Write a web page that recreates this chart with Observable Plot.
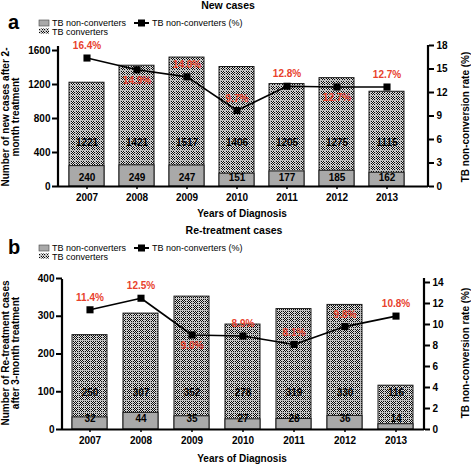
<!DOCTYPE html>
<html>
<head>
<meta charset="utf-8">
<script src="https://cdn.jsdelivr.net/npm/d3@7"></script>
<script src="https://cdn.jsdelivr.net/npm/@observablehq/plot@0.6"></script>
<style>
  html, body { margin: 0; padding: 0; background: #fff; }
  #root { position: relative; width: 471px; height: 465px; overflow: hidden; background: #fff; }
  #root > svg { position: absolute; left: 0; }
  #overlay { position: absolute; left: 0; top: 0; pointer-events: none; }
</style>
</head>
<body>
<div id="root"></div>
<script>
// ---------- data ----------
const years = ["2007", "2008", "2009", "2010", "2011", "2012", "2013"];

const newNonConverters = [240, 249, 247, 151, 177, 185, 162];
const newConverters    = [1221, 1421, 1517, 1406, 1205, 1275, 1115];
const newRate          = [16.4, 14.9, 14.0, 9.7, 12.8, 12.7, 12.7];
const newRateBelow     = ["2008", "2012"];

const reNonConverters  = [32, 44, 35, 27, 28, 36, 14];
const reConverters     = [250, 307, 352, 278, 319, 330, 116];
const reRate           = [11.4, 12.5, 9.0, 8.9, 8.1, 9.8, 10.8];
const reRateBelow      = ["2009"];

const newLeftTicks  = [0, 400, 800, 1200, 1600];
const newRightTicks = [0, 3, 6, 9, 12, 15, 18];
const reLeftTicks   = [0, 100, 200, 300, 400];
const reRightTicks  = [0, 2, 4, 6, 8, 10, 12, 14];

// ---------- styles ----------
const FONT = "'Liberation Sans', Arial, Helvetica, sans-serif";
const RED = "#e8412c";
const NC_FILL = "#a9a9a9";
const root = document.getElementById("root");

function panel(cfg) {
  const rows = years.map((y, i) => ({
    year: y, nc: cfg.nc[i], c: cfg.c[i], rate: cfg.rate[i]
  }));
  const k = cfg.yMax / cfg.rMax;
  const ry = d => d.rate * k;
  const above = rows.filter(d => !cfg.below.includes(d.year));
  const below = rows.filter(d => cfg.below.includes(d.year));
  const chart = Plot.plot({
    width: 471,
    height: cfg.height,
    marginTop: cfg.mt, marginBottom: cfg.mb, marginLeft: cfg.ml, marginRight: cfg.mr,
    x: { type: "band", domain: years, paddingInner: 0.31, paddingOuter: cfg.po, insetRight: cfg.insetRight },
    y: { domain: [0, cfg.yMax] },
    style: { fontFamily: FONT, fontSize: "10px", fontWeight: "bold", color: "black", background: "transparent", overflow: "visible" },
    marks: [
      Plot.barY(rows, { x: "year", y: "c", fill: `url(#${cfg.pattern})`, stroke: "#1a1a1a", strokeWidth: 1 }),
      Plot.barY(rows, { x: "year", y: "nc", fill: NC_FILL, stroke: "#1a1a1a", strokeWidth: 1 }),
      Plot.text(rows, { x: "year", text: d => String(d.c), frameAnchor: "bottom", dy: cfg.cLabelDy, fontSize: 10, fontWeight: "bold", fill: "black" }),
      Plot.text(rows, { x: "year", text: d => String(d.nc), frameAnchor: "bottom", dy: cfg.ncLabelDy, fontSize: 10, fontWeight: "bold", fill: "black" }),
      Plot.line(rows, { x: "year", y: ry, stroke: "black", strokeWidth: 1.6 }),
      Plot.dot(rows, { x: "year", y: ry, symbol: "square", r: 4, fill: "black", stroke: "none" }),
      Plot.text(above, { x: "year", y: ry, text: d => d.rate.toFixed(1) + "%", dy: -12, fill: RED, fontSize: 10, fontWeight: "bold" }),
      Plot.text(below, { x: "year", y: ry, text: d => d.rate.toFixed(1) + "%", dy: 11, fill: RED, fontSize: 10, fontWeight: "bold" }),
      Plot.ruleY([0], { stroke: "black", strokeWidth: 2.2 }),
      Plot.axisY(cfg.leftTicks, { anchor: "left", tickSize: 6, tickPadding: 2, strokeWidth: 2, label: null,
        tickFormat: v => String(v), fontSize: 10, fontWeight: "bold" }),
      Plot.axisY(cfg.rightTicks.map(t => t * k), { anchor: "right", tickSize: 5, tickPadding: 3, strokeWidth: 2, label: null,
        tickFormat: v => String(Math.round(v / k)), fontSize: 10, fontWeight: "bold" }),
      Plot.axisX({ tickSize: 3, tickPadding: 4, strokeWidth: 1.5, label: null, fontSize: 10, fontWeight: "bold" })
    ]
  });
  chart.style.top = cfg.top + "px";
  // axis spines (layout only)
  const s = d3.select(chart);
  const yBottom = cfg.height - cfg.mb;
  s.append("line").attr("x1", cfg.ml).attr("x2", cfg.ml).attr("y1", cfg.mt + 1).attr("y2", yBottom + 1)
    .attr("stroke", "black").attr("stroke-width", 2.2);
  s.append("line").attr("x1", 471 - cfg.mr).attr("x2", 471 - cfg.mr).attr("y1", cfg.mt).attr("y2", yBottom + 1)
    .attr("stroke", "black").attr("stroke-width", 2.2);
  root.appendChild(chart);
}

panel({
  top: 0, height: 232, mt: 45, mb: 46, ml: 58, mr: 43, po: 0.17, insetRight: 14,
  nc: newNonConverters, c: newConverters, rate: newRate, below: newRateBelow,
  yMax: 1659, rMax: 18, leftTicks: newLeftTicks, rightTicks: newRightTicks,
  cLabelDy: -41, ncLabelDy: -6, pattern: "convA"
});
panel({
  top: 232, height: 233, mt: 46, mb: 36, ml: 62, mr: 47, po: 0.154, insetRight: 1,
  nc: reNonConverters, c: reConverters, rate: reRate, below: reRateBelow,
  yMax: 400, rMax: 14.38, leftTicks: reLeftTicks, rightTicks: reRightTicks,
  cLabelDy: -34, ncLabelDy: -8, pattern: "convB"
});

// ---------- overlay: patterns, titles, legends, axis titles ----------
const ov = d3.select(root).append("svg").attr("id", "overlay")
  .attr("width", 471).attr("height", 465)
  .style("font-family", FONT);

const defs = ov.append("defs");
function makePattern(id, n) {
  const p = defs.append("pattern").attr("id", id).attr("patternUnits", "userSpaceOnUse")
    .attr("width", n).attr("height", n);
  p.append("rect").attr("width", n).attr("height", n).attr("fill", "#7c7c7c");
  p.append("rect").attr("x", 0).attr("y", 0).attr("width", n).attr("height", 1).attr("fill", "#bdbdbd");
  p.append("rect").attr("x", 0).attr("y", 0).attr("width", 1).attr("height", n).attr("fill", "#bdbdbd");
  for (let i = 1; i < n; i++) for (let j = 1; j < n; j++) {
    if ((i + j) % 2 === 0) p.append("rect").attr("x", i).attr("y", j).attr("width", 1).attr("height", 1).attr("fill", "#0a0a0a");
    else p.append("rect").attr("x", i).attr("y", j).attr("width", 1).attr("height", 1).attr("fill", "#e2e2e2");
  }
}
makePattern("convA", 5);
makePattern("convB", 6);

function header(oy, letter, title, leftLines, rightTitle, plotCenterY, titleX) {
  ov.append("text").attr("x", 8).attr("y", oy + 29).attr("font-size", 20).attr("font-weight", "bold").text(letter);
  ov.append("text").attr("x", titleX).attr("y", oy + 9).attr("text-anchor", "middle")
    .attr("font-size", 10.5).attr("font-weight", "bold").text(title);
  // legend
  ov.append("rect").attr("x", 39).attr("y", oy + 20).attr("width", 10).attr("height", 6)
    .attr("fill", NC_FILL).attr("stroke", "#444").attr("stroke-width", 0.6);
  ov.append("text").attr("x", 52).attr("y", oy + 26.3).attr("font-size", 9).text("TB non-converters");
  ov.append("rect").attr("x", 39).attr("y", oy + 28.5).attr("width", 10).attr("height", 5)
    .attr("fill", "url(#convA)");
  ov.append("text").attr("x", 52).attr("y", oy + 35).attr("font-size", 9).text("TB converters");
  ov.append("line").attr("x1", 134).attr("x2", 149).attr("y1", oy + 23).attr("y2", oy + 23)
    .attr("stroke", "black").attr("stroke-width", 2);
  ov.append("rect").attr("x", 138).attr("y", oy + 19.5).attr("width", 7).attr("height", 7).attr("fill", "black");
  ov.append("text").attr("x", 152).attr("y", oy + 26.3).attr("font-size", 9).text("TB non-converters (%)");
  // axis titles
  const lt = ov.append("text").attr("font-size", 10).attr("font-weight", "bold").attr("text-anchor", "middle")
    .attr("transform", `translate(0,${plotCenterY}) rotate(-90)`);
  lt.append("tspan").attr("x", 0).attr("y", 8.5).text(leftLines[0]);
  lt.append("tspan").attr("x", 0).attr("y", 18.5).text(leftLines[1]);
  ov.append("text").attr("font-size", 10).attr("font-weight", "bold").attr("text-anchor", "middle")
    .attr("transform", `translate(469,${plotCenterY}) rotate(-90)`).text(rightTitle);
}

header(0, "a", "New cases", ["Number of new cases after 2-", "month treatment"], "TB non-conversion rate (%)", 117, 228);
header(225, "b", "Re-treatment cases", ["Number of Re-treatment cases", "after 3-month treatment"], "TB non-conversion rate (%)", 353, 234);

ov.append("text").attr("x", 242).attr("y", 217).attr("text-anchor", "middle").attr("font-size", 10)
  .attr("font-weight", "bold").text("Years of Diagnosis");
ov.append("text").attr("x", 242).attr("y", 462).attr("text-anchor", "middle").attr("font-size", 10)
  .attr("font-weight", "bold").text("Years of Diagnosis");
</script>
</body>
</html>
